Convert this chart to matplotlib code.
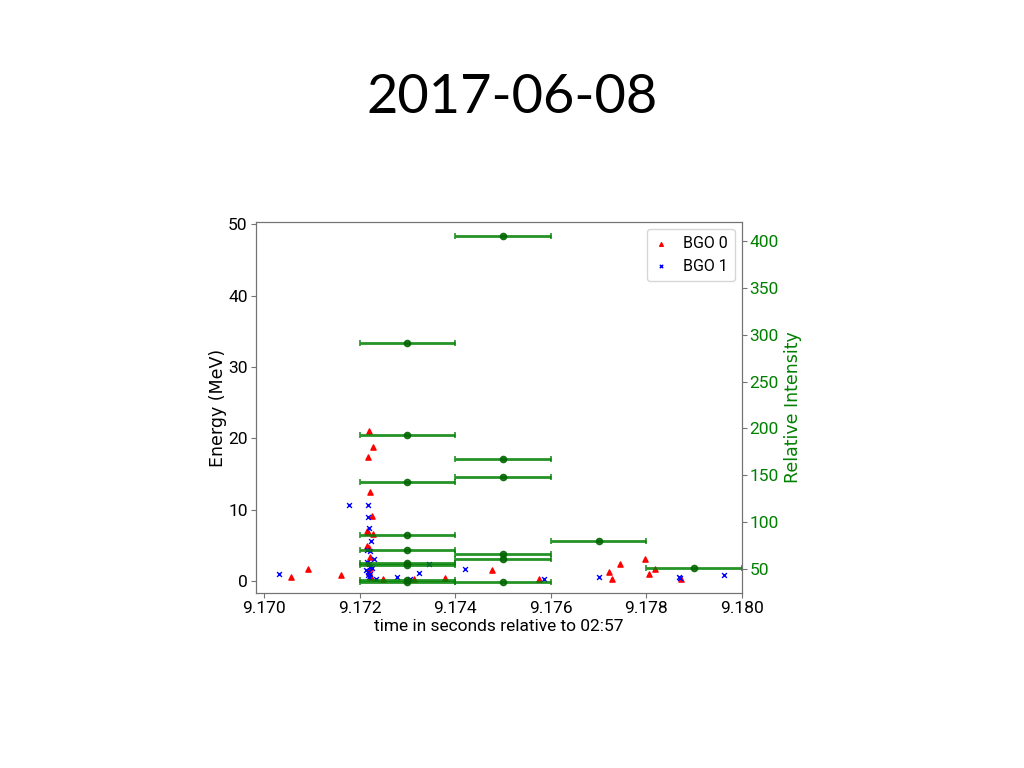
import matplotlib
matplotlib.use('Agg')
import matplotlib.pyplot as plt

# BGO 0 (red triangles): time (s) and energy (MeV)
bgo0_t = [9.17057, 9.17091, 9.17160, 9.17219, 9.17227, 9.17218, 9.17221, 9.17226,
          9.17216, 9.17218, 9.17227, 9.17215, 9.17220, 9.17222, 9.17224, 9.17218,
          9.17222, 9.17220, 9.17248, 9.17314, 9.17378, 9.17476, 9.17575, 9.17721,
          9.17728, 9.17745, 9.17796, 9.17805, 9.17819, 9.17873]
bgo0_e = [0.6, 1.6, 0.8, 21.0, 18.7, 17.3, 12.5, 9.1,
          7.0, 6.8, 6.6, 4.9, 4.6, 3.4, 0.6, 2.6,
          1.8, 1.2, 0.3, 0.3, 0.4, 1.5, 0.25, 1.2,
          0.25, 2.3, 3.1, 0.9, 1.6, 0.25]

# BGO 1 (blue crosses)
bgo1_t = [9.17032, 9.17177, 9.17218, 9.17217, 9.17220, 9.17224, 9.17215, 9.17222,
          9.17230, 9.17216, 9.17219, 9.17221, 9.17225, 9.17214, 9.17218, 9.17222,
          9.17217, 9.17220, 9.17235, 9.17279, 9.17305, 9.17325, 9.17346, 9.17420,
          9.17586, 9.17700, 9.17869, 9.17871, 9.17963]
bgo1_e = [0.9, 10.6, 10.6, 8.9, 7.4, 5.6, 4.3, 4.2,
          3.1, 2.6, 2.3, 2.0, 1.8, 1.5, 1.2, 1.0,
          0.8, 0.6, 0.25, 0.5, 0.3, 1.1, 2.4, 1.7,
          0.3, 0.6, 0.6, 0.4, 0.8]

# relative intensity per 2 ms bin
bin_t = [9.173] * 9 + [9.175] * 6 + [9.177, 9.179]
bin_i = [291, 193, 143, 86, 70, 56, 54, 38, 36,
         405, 167, 148, 66, 61, 36,
         80, 51]
bin_w = 0.001

narrow = ['Roboto', 'DejaVu Sans']

fig = plt.figure(figsize=(10.24, 7.68), dpi=100)
ax = fig.add_axes([0.25, 0.2279, 0.4746, 0.4830])
ax2 = ax.twinx()

ax.scatter(bgo0_t, bgo0_e, marker='^', color='red', s=14, label='BGO 0', zorder=3)
ax.scatter(bgo1_t, bgo1_e, marker='x', color='blue', s=12, linewidths=1, label='BGO 1', zorder=3)

ax2.errorbar(bin_t, bin_i, xerr=bin_w, fmt='o', color='darkgreen', ecolor='green',
             elinewidth=2, capsize=2, capthick=1.2, markersize=4.5, alpha=0.85)

ax.set_xlim(9.16983, 9.180)
ax.set_ylim(-1.7, 50.3)
ax2.set_ylim(24.4, 420.3)

ax.set_xticks([9.170, 9.172, 9.174, 9.176, 9.178, 9.180])
ax.set_xticklabels(['9.170', '9.172', '9.174', '9.176', '9.178', '9.180'])
ax.set_yticks([0, 10, 20, 30, 40, 50])
ax2.set_yticks([50, 100, 150, 200, 250, 300, 350, 400])

for lab in ax.get_xticklabels() + ax.get_yticklabels():
    lab.set_family(narrow)
    lab.set_fontsize(12.5)
for lab in ax2.get_yticklabels():
    lab.set_family(narrow)
    lab.set_fontsize(12.5)
    lab.set_color('green')

ax.set_xlabel('time in seconds relative to 02:57', family=narrow, fontsize=12.5, labelpad=2)
ax.set_ylabel('Energy (MeV)', family='DejaVu Sans', fontsize=12.5, labelpad=1)
ax2.set_ylabel('Relative Intensity', family='DejaVu Sans', fontsize=12.5,
               color='green', labelpad=4)

for a in (ax, ax2):
    for sp in a.spines.values():
        sp.set_color('0.45')
ax.tick_params(colors='0.45', labelcolor='black', pad=2.5)
ax2.tick_params(axis='y', colors='0.45', labelcolor='green', pad=2)

leg = ax.legend(loc='upper right', prop={'family': narrow, 'size': 11.5},
                markerscale=0.7, handlelength=0.8, handletextpad=1.0, borderpad=0.45,
                labelspacing=0.45, borderaxespad=0.45)

fig.text(0.5, 0.873, '2017-06-08', ha='center', va='center',
         family=['Lato', 'DejaVu Sans'], fontsize=39)

fig.savefig('out.png', dpi=100)
